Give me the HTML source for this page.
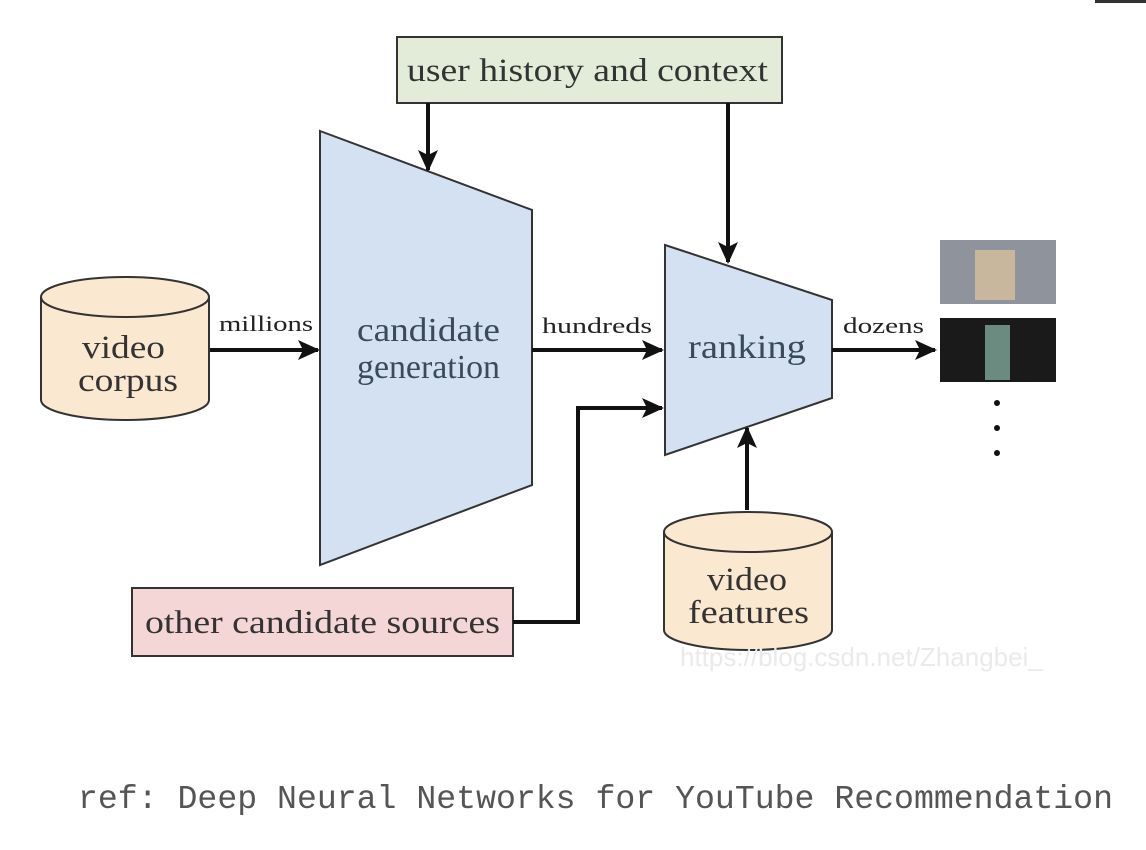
<!DOCTYPE html>
<html><head><style>body{margin:0;background:#fff}svg{display:block}</style></head>
<body>
<svg width="1146" height="850" viewBox="0 0 1146 850" xmlns="http://www.w3.org/2000/svg" font-family="Liberation Serif, serif">
<defs>
<marker id="b" markerWidth="22" markerHeight="20" refX="20" refY="10" orient="auto" markerUnits="userSpaceOnUse"><path d="M0,0 L22,10 L0,20 L5,10 z" fill="#111"/></marker></defs>
<rect x="1095" y="0" width="51" height="3" fill="#333"/>
<rect x="397" y="37" width="385" height="66" fill="#e2ecd9" stroke="#333" stroke-width="2"/>
<text x="407" y="81" font-size="33" textLength="361" lengthAdjust="spacingAndGlyphs" fill="#333">user history and context</text>
<polygon points="320,131 532,210 532,485 320,565" fill="#d3e1f2" stroke="#333" stroke-width="2"/>
<text x="357" y="341" font-size="34" textLength="143" lengthAdjust="spacingAndGlyphs" fill="#3a4a5c">candidate</text>
<text x="357" y="378" font-size="34" textLength="143" lengthAdjust="spacingAndGlyphs" fill="#3a4a5c">generation</text>
<polygon points="665,245 832,300 832,398 665,455" fill="#d3e1f2" stroke="#333" stroke-width="2"/>
<text x="688" y="358" font-size="34" textLength="118" lengthAdjust="spacingAndGlyphs" fill="#3a4a5c">ranking</text>
<g stroke="#333" stroke-width="2" fill="#fbe8d0">
<path d="M41,297 L41,400 A84,20 0 0 0 209,400 L209,297"/>
<ellipse cx="125" cy="297" rx="84" ry="20"/>
<path d="M664,532 L664,630 A84,20 0 0 0 832,630 L832,532"/>
<ellipse cx="748" cy="532" rx="84" ry="20"/>
</g>
<text x="82" y="358" font-size="33" textLength="83" lengthAdjust="spacingAndGlyphs" fill="#333">video</text>
<text x="78" y="391" font-size="33" textLength="100" lengthAdjust="spacingAndGlyphs" fill="#333">corpus</text>
<text x="707" y="590" font-size="33" textLength="80" lengthAdjust="spacingAndGlyphs" fill="#333">video</text>
<text x="688" y="623" font-size="33" textLength="121" lengthAdjust="spacingAndGlyphs" fill="#333">features</text>
<rect x="132" y="588" width="381" height="68" fill="#f4d6d6" stroke="#333" stroke-width="2"/>
<text x="145" y="633" font-size="33" textLength="355" lengthAdjust="spacingAndGlyphs" fill="#333">other candidate sources</text>
<g stroke="#111" stroke-width="4" fill="none">
<line x1="210" y1="350" x2="318" y2="350" marker-end="url(#b)"/>
<line x1="532" y1="350" x2="662" y2="350" marker-end="url(#b)"/>
<line x1="832" y1="350" x2="935" y2="350" marker-end="url(#b)"/>
<line x1="428" y1="103" x2="428" y2="170" marker-end="url(#b)"/>
<line x1="728" y1="103" x2="728" y2="262" marker-end="url(#b)"/>
<line x1="747" y1="510" x2="747" y2="428" marker-end="url(#b)"/>
<polyline points="513,622 578,622 578,408 662,408" marker-end="url(#b)"/>
</g>
<g font-size="22" fill="#222">
<text x="219" y="331" textLength="94" lengthAdjust="spacingAndGlyphs">millions</text>
<text x="542" y="333" textLength="110" lengthAdjust="spacingAndGlyphs">hundreds</text>
<text x="843" y="333" textLength="81" lengthAdjust="spacingAndGlyphs">dozens</text>
</g>
<rect x="940" y="240" width="116" height="64" fill="#8e939c"/>
<rect x="975" y="250" width="40" height="50" fill="#c9b79d"/>
<rect x="940" y="318" width="116" height="64" fill="#1a1a1a"/>
<rect x="985" y="325" width="25" height="55" fill="#6b8a80"/>
<g fill="#111"><circle cx="997" cy="403" r="3"/><circle cx="997" cy="428" r="3"/><circle cx="997" cy="453" r="3"/></g>
<text x="680" y="666" font-size="26" fill="#eaeaea" font-family="Liberation Sans, sans-serif">https://blog.csdn.net/Zhangbei_</text>
<text x="78" y="808" font-size="33" textLength="1035" lengthAdjust="spacingAndGlyphs" fill="#555" font-family="Liberation Mono, monospace">ref: Deep Neural Networks for YouTube Recommendation</text>
</svg>
</body></html>
